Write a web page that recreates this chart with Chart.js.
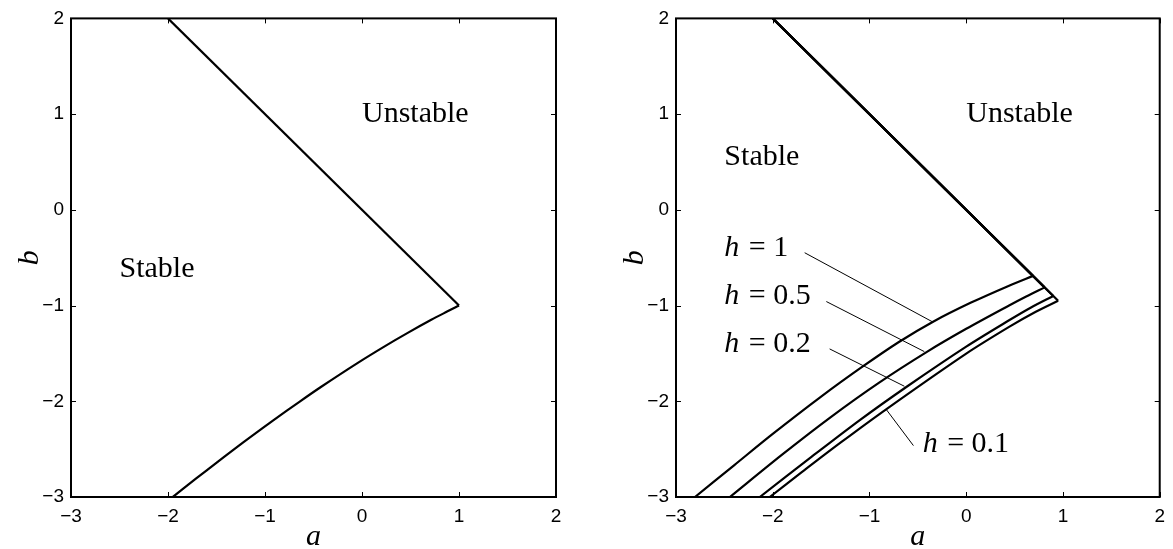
<!DOCTYPE html>
<html>
<head>
<meta charset="utf-8">
<title>Stability regions</title>
<script src="https://cdn.jsdelivr.net/npm/chart.js@4.4.1/dist/chart.umd.min.js"></script>
<style>
  html, body { margin: 0; padding: 0; background: #fff; }
  #wrap { position: relative; width: 1173px; height: 549px; overflow: hidden; }
  canvas { position: absolute; top: 0; }
  #chart-left { left: 0; }
  #chart-right { left: 600px; }
</style>
</head>
<body>
<div id="wrap">
  <canvas id="chart-left" width="600" height="549"></canvas>
  <canvas id="chart-right" width="573" height="549"></canvas>
</div>
<script>
// --- ticks (same on both axes, both panels) ---
const tickValues = [-3, -2, -1, 0, 1, 2];
const tickLabels = ['\u22123', '\u22122', '\u22121', '0', '1', '2'];

// --- left panel: exact boundary ---
const edgeA = [-2, 1];
const edgeB = [2, -1];
const exactA = [-1.953, -1.817, -1.601, -1.228, -0.915, -0.649, -0.420, -0.047, 0.242, 0.467, 0.714, 0.877, 0.970, 1];
const exactB = [-3.002, -2.892, -2.721, -2.433, -2.200, -2.008, -1.848, -1.601, -1.421, -1.288, -1.149, -1.063, -1.015, -1];

// --- right panel: boundary for each step size h ---
const stepLabels = ['1', '0.5', '0.2', '0.1'];
const cornerA = [0.69, 0.81, 0.90, 0.95];

const h1A = [-2.804, -2.4, -2.0, -1.5, -1.069, -0.7, -0.347, 0.05, 0.443, 0.69];
const h1B = [-3.0, -2.669, -2.341, -1.951, -1.636, -1.383, -1.171, -0.969, -0.792, -0.69];
const h05A = [-2.443, -1.9, -1.4, -0.9, -0.402, 0, 0.443, 0.62, 0.81];
const h05B = [-3.0, -2.555, -2.165, -1.805, -1.481, -1.243, -0.999, -0.905, -0.81];
const h02A = [-2.134, -1.6, -1.1, -0.608, 0, 0.443, 0.67, 0.90];
const h02B = [-3.0, -2.582, -2.197, -1.843, -1.429, -1.154, -1.020, -0.90];
const h01A = [-2.031, -1.7, -1.3, -0.828, 0, 0.443, 0.70, 0.95];
const h01B = [-3.0, -2.741, -2.433, -2.084, -1.502, -1.223, -1.075, -0.95];

// leader lines from the h labels to their curves
const leaderFromA = [-1.670, -1.446, -1.412, -0.546];
const leaderFromB = [-0.448, -0.958, -1.453, -2.463];
const leaderToA = [-0.347, -0.433, -0.639, -0.828];
const leaderToB = [-1.171, -1.481, -1.843, -2.084];

const SERIF = '"Liberation Serif", "Times New Roman", serif';
const SANS = '"Liberation Sans", Arial, sans-serif';
const TICK = 5;

const pts = (xs, ys) => xs.map((v, i) => ({ x: v, y: ys[i] }));

function curve(xs, ys, width, tension) {
    return {
        data: pts(xs, ys),
        borderColor: '#000',
        borderWidth: width,
        pointRadius: 0,
        tension: tension || 0,
        fill: false
    };
}

// box, inward ticks, axis names and text notes
function framePlugin(notes) {
    return {
        id: 'frame',
        afterDatasetsDraw(chart) {
            const { ctx, chartArea: ca, scales: { x, y } } = chart;
            ctx.save();
            ctx.strokeStyle = '#000';
            ctx.lineWidth = 2;
            ctx.strokeRect(ca.left, ca.top, ca.right - ca.left, ca.bottom - ca.top);

            ctx.lineWidth = 1;
            ctx.beginPath();
            tickValues.forEach(v => {
                const px = Math.round(x.getPixelForValue(v)) + 0.5;
                ctx.moveTo(px, ca.bottom); ctx.lineTo(px, ca.bottom - TICK);
                ctx.moveTo(px, ca.top); ctx.lineTo(px, ca.top + TICK);
                const py = Math.round(y.getPixelForValue(v)) + 0.5;
                ctx.moveTo(ca.left, py); ctx.lineTo(ca.left + TICK, py);
                ctx.moveTo(ca.right, py); ctx.lineTo(ca.right - TICK, py);
            });
            ctx.stroke();

            ctx.fillStyle = '#000';
            // axis names
            ctx.font = 'italic 30px ' + SERIF;
            ctx.textAlign = 'center';
            ctx.textBaseline = 'alphabetic';
            ctx.fillText('a', (ca.left + ca.right) / 2, 545);
            ctx.save();
            ctx.translate(ca.left - 33, (ca.top + ca.bottom) / 2);
            ctx.rotate(-Math.PI / 2);
            ctx.fillText('b', 0, 0);
            ctx.restore();

            // region names and step labels
            ctx.textBaseline = 'middle';
            ctx.textAlign = 'left';
            notes.forEach(n => {
                const px = x.getPixelForValue(n.a);
                const py = y.getPixelForValue(n.b);
                if (n.h) {
                    ctx.font = 'italic 30px ' + SERIF;
                    ctx.fillText('h', px, py);
                    const w = ctx.measureText('h').width;
                    ctx.font = '30px ' + SERIF;
                    ctx.fillText(' = ' + n.text, px + w + 2, py);
                } else {
                    ctx.font = '30px ' + SERIF;
                    ctx.fillText(n.text, px, py);
                }
            });
            ctx.restore();
        }
    };
}

function axisOptions(axisSize, horizontal) {
    return {
        type: 'linear',
        min: -3,
        max: 2,
        afterBuildTicks: s => { s.ticks = tickValues.map(v => ({ value: v })); },
        afterFit: s => {
            if (horizontal) s.height = axisSize; else s.width = axisSize;
        },
        grid: { display: false, drawTicks: false },
        border: { display: false },
        ticks: {
            autoSkip: false,
            maxRotation: 0,
            padding: horizontal ? 8 : 7,
            color: '#000',
            font: { family: SANS, size: 19 },
            callback: v => tickLabels[tickValues.indexOf(v)]
        }
    };
}

function makeChart(id, datasets, yWidth, rightPad, notes) {
    const ctx = document.getElementById(id).getContext('2d');
    return new Chart(ctx, {
        type: 'line',
        data: { datasets },
        options: {
            responsive: false,
            animation: false,
            events: [],
            layout: { padding: { top: 13, right: rightPad, left: 0, bottom: 0 } },
            plugins: { legend: { display: false }, tooltip: { enabled: false } },
            scales: {
                x: axisOptions(52, true),
                y: axisOptions(yWidth, false)
            }
        },
        plugins: [framePlugin(notes)]
    });
}

// left: exact region
makeChart('chart-left', [
    curve(edgeA, edgeB, 2.2),
    curve(exactA, exactB, 2.2, 0.3)
], 71, 44, [
    { text: 'Unstable', a: 0, b: 1 },
    { text: 'Stable', a: -2.5, b: -0.62 }
]);

// right: discrete regions for h = 1, 0.5, 0.2, 0.1
const lowerA = [h1A, h05A, h02A, h01A];
const lowerB = [h1B, h05B, h02B, h01B];
const rightSets = [];
cornerA.forEach((c, i) => {
    rightSets.push(curve([-2, c], [2, -c], 2.2));
    rightSets.push(curve(lowerA[i], lowerB[i], 2.2, 0.3));
});
leaderFromA.forEach((a, i) => {
    rightSets.push(curve([a, leaderToA[i]], [leaderFromB[i], leaderToB[i]], 1));
});

makeChart('chart-right', rightSets, 76, 12, [
    { text: 'Unstable', a: 0, b: 1 },
    { text: 'Stable', a: -2.5, b: 0.55 },
    { text: stepLabels[0], a: -2.5, b: -0.4, h: true },
    { text: stepLabels[1], a: -2.5, b: -0.9, h: true },
    { text: stepLabels[2], a: -2.5, b: -1.4, h: true },
    { text: stepLabels[3], a: -0.45, b: -2.45, h: true }
]);
</script>
</body>
</html>
